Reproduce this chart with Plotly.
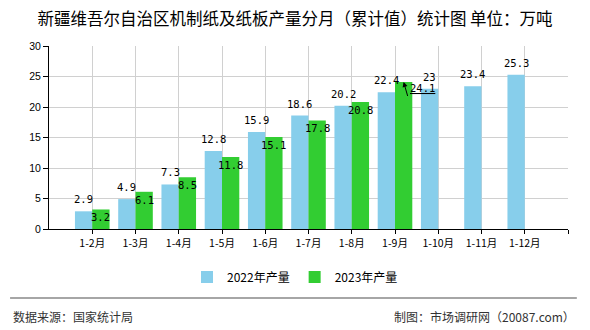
import plotly.graph_objects as go

categories = ["1-2月", "1-3月", "1-4月", "1-5月", "1-6月", "1-7月",
              "1-8月", "1-9月", "1-10月", "1-11月", "1-12月"]
values_2022 = [2.9, 4.9, 7.3, 12.8, 15.9, 18.6, 20.2, 22.4, 23, 23.4, 25.3]
values_2023 = [3.2, 6.1, 8.5, 11.8, 15.1, 17.8, 20.8, 24.1, None, None, None]
series_names = ["2022年产量", "2023年产量"]
y_ticks = [0, 5, 10, 15, 20, 25, 30]

title_text = "新疆维吾尔自治区机制纸及纸板产量分月（累计值）统计图 单位：万吨"
source_text = "数据来源：国家统计局"
credit_text = "制图：市场调研网（20087.com）"

BLUE = "#87CEEB"
GREEN = "#32CD32"
BARGAP = 0.2
CJK = "Noto Sans CJK SC"
MONO = "DejaVu Sans Mono"

xpos = list(range(1, len(categories) + 1))
half = (1 - BARGAP) / 4  # offset from category centre to each bar centre


def fmt(v):
    return f"{v:g}"


fig = go.Figure()
fig.add_trace(go.Bar(x=xpos, y=values_2022, name=series_names[0],
                     marker=dict(color=BLUE, line=dict(width=0))))
fig.add_trace(go.Bar(x=xpos, y=values_2023, name=series_names[1],
                     marker=dict(color=GREEN, line=dict(width=0))))

annotations = []
for xp, v in zip(xpos, values_2022):
    annotations.append(dict(x=xp - half, y=v, xref="x", yref="y", text=fmt(v),
                            showarrow=False, yshift=12,
                            font=dict(family=MONO, size=10.5, color="#000")))
last_idx = max(i for i, v in enumerate(values_2023) if v is not None)
for i, (xp, v) in enumerate(zip(xpos, values_2023)):
    if v is None:
        continue
    if i == last_idx:
        annotations.append(dict(x=xp + half, y=v, xref="x", yref="y",
                                text="<u>" + fmt(v) + "</u>",
                                showarrow=True, arrowhead=2, arrowsize=1,
                                arrowwidth=1, arrowcolor="#000", standoff=0,
                                ax=4, ay=14, xanchor="left", yanchor="bottom",
                                font=dict(family=MONO, size=10.5, color="#000")))
    else:
        annotations.append(dict(x=xp + half, y=v, xref="x", yref="y", text=fmt(v),
                                showarrow=False, yshift=-8,
                                font=dict(family=MONO, size=10.5, color="#000")))

# footer
annotations.append(dict(x=-0.073, y=-0.48, xref="paper", yref="paper",
                        text=source_text, showarrow=False, xanchor="left",
                        yanchor="middle", font=dict(family=CJK, size=12, color="#333")))
annotations.append(dict(x=1.017, y=-0.48, xref="paper", yref="paper",
                        text=credit_text, showarrow=False, xanchor="right",
                        yanchor="middle", font=dict(family=CJK, size=12, color="#333")))

fig.update_layout(
    width=590, height=330,
    margin=dict(l=49, r=22, t=46, b=101),
    paper_bgcolor="white", plot_bgcolor="white",
    barmode="group", bargap=BARGAP, bargroupgap=0,
    title=dict(text=title_text, x=0.5, xref="container", xanchor="center",
               y=1 - 19 / 330, yref="container", yanchor="middle",
               font=dict(family=CJK, size=16.5, color="#000")),
    xaxis=dict(range=[0, len(categories) + 1],
               tickvals=xpos + [len(categories) + 1],
               ticktext=categories + [""],
               showgrid=True, gridcolor="#d0d0d0", gridwidth=1,
               showline=True, linecolor="#000", linewidth=1,
               ticks="outside", ticklen=4, tickcolor="#000",
               tickfont=dict(family=CJK, size=10.5, color="#000"),
               zeroline=False, fixedrange=True),
    yaxis=dict(range=[0, 30], tickvals=y_ticks,
               showgrid=True, gridcolor="#d0d0d0", gridwidth=1,
               showline=True, linecolor="#000", linewidth=1,
               ticks="outside", ticklen=5, tickcolor="#000",
               tickfont=dict(family="Liberation Sans", size=10.5, color="#000"),
               zeroline=False, fixedrange=True),
    legend=dict(orientation="h", x=0.474, xanchor="center",
                y=-0.262, yanchor="middle",
                font=dict(family=CJK, size=12, color="#000"),
                itemwidth=30, traceorder="normal"),
    shapes=[dict(type="line", xref="paper", yref="paper", x0=-0.075, x1=1.017,
                 y0=-0.377, y1=-0.377, line=dict(color="#888", width=1.5))],
    annotations=annotations,
    showlegend=True,
)

fig.write_html("out.html")
